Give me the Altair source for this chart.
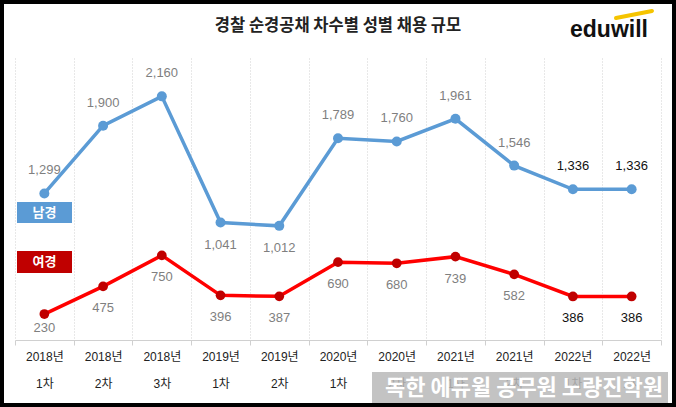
import altair as alt
import pandas as pd

years = ["2018년", "2018년", "2018년", "2019년", "2019년", "2020년", "2020년",
         "2021년", "2021년", "2022년", "2022년"]
rounds = ["1차", "2차", "3차", "1차", "2차", "1차", "2차", "1차", "2차", "1차", "2차"]
male = [1299, 1900, 2160, 1041, 1012, 1789, 1760, 1961, 1546, 1336, 1336]
female = [230, 475, 750, 396, 387, 690, 680, 739, 582, 386, 386]
series_names = ["남경", "여경"]
title_text = "경찰 순경공채 차수별 성별 채용 규모"
watermark_text = "독한 에듀윌 공무원 노량진학원"

cats = [f"{y}|{r}" for y, r in zip(years, rounds)]
rows = []
for c, m, f in zip(cats, male, female):
    rows.append({"cat": c, "series": series_names[0], "value": m})
    rows.append({"cat": c, "series": series_names[1], "value": f})
df = pd.DataFrame(rows)

BLUE = "#5b9bd5"
RED_LINE = "#ff0000"
RED_PT = "#c00000"
FONT = "Liberation Sans, Noto Sans CJK KR, sans-serif"
KFONT = "Noto Sans CJK KR, sans-serif"

W, H = 646, 282

xenc = alt.X(
    "cat:N", sort=cats, title=None,
    scale=alt.Scale(type="band", paddingInner=0, paddingOuter=0),
    axis=alt.Axis(
        labelExpr="split(datum.label, '|')", labelAngle=0,
        labelFont=FONT, labelFontSize=12, labelColor="#222",
        labelLineHeight=27, labelPadding=6,
        tickBand="extent", tickColor="#d0d0d0", tickSize=5,
        domainColor="#d0d0d0", grid=True, gridColor="#d0d0d0",
        gridDash=[1, 2], gridWidth=1,
    ),
)
yenc = alt.Y("value:Q", scale=alt.Scale(domain=[0, 2500]), axis=None)

base = alt.Chart(df).encode(x=xenc, y=yenc)

m_df = base.transform_filter(alt.datum.series == series_names[0])
f_df = base.transform_filter(alt.datum.series == series_names[1])

label_color = alt.condition("indexof(datum.cat, '2022') == 0",
                            alt.value("#111111"), alt.value("#7f7f7f"))

blue_line = m_df.mark_line(color=BLUE, strokeWidth=3.5)
blue_pts = m_df.mark_point(color=BLUE, filled=True, opacity=1, size=100)
red_line = f_df.mark_line(color=RED_LINE, strokeWidth=3.5)
red_pts = f_df.mark_point(color=RED_PT, filled=True, opacity=1, size=95)

txt = dict(font=FONT, fontSize=13, baseline="middle", align="center")
blue_above = m_df.transform_filter("indexof(datum.cat, '2019') != 0").mark_text(
    dy=-23, **txt).encode(text=alt.Text("value:Q", format=","), color=label_color)
blue_below = m_df.transform_filter("indexof(datum.cat, '2019') == 0").mark_text(
    dy=22, **txt).encode(text=alt.Text("value:Q", format=","), color=label_color)
red_below = f_df.transform_filter("datum.value >= 300").mark_text(
    dy=22, **txt).encode(text=alt.Text("value:Q", format=","), color=label_color)
red_low = f_df.transform_filter("datum.value < 300").mark_text(
    dy=14, **txt).encode(text=alt.Text("value:Q", format=","), color=label_color)

deco = alt.Chart(pd.DataFrame({"k": [0]}))

title_mark = deco.mark_text(
    text=title_text, font=KFONT, fontSize=16.5, fontWeight="bold", color="#222",
    align="center", baseline="middle").encode(x=alt.value(323), y=alt.value(-32))

logo = deco.mark_text(
    text="eduwill", font="Liberation Sans, sans-serif", fontSize=23, fontWeight="bold",
    color="#111", align="left", baseline="alphabetic").encode(
    x=alt.value(555), y=alt.value(-21))
swoosh = deco.mark_rule(color="#f5c400", strokeWidth=4, strokeCap="round").encode(
    x=alt.value(601), y=alt.value(-40), x2=alt.value(637), y2=alt.value(-47))

leg_m_box = deco.mark_rect(color=BLUE).encode(
    x=alt.value(2), x2=alt.value(57), y=alt.value(144), y2=alt.value(165))
leg_m_txt = deco.mark_text(
    text=series_names[0], font=KFONT, fontSize=13, fontWeight="bold", color="white",
    align="center", baseline="middle").encode(x=alt.value(29.5), y=alt.value(154.5))
leg_f_box = deco.mark_rect(color=RED_PT).encode(
    x=alt.value(2), x2=alt.value(57), y=alt.value(193), y2=alt.value(215))
leg_f_txt = deco.mark_text(
    text=series_names[1], font=KFONT, fontSize=13, fontWeight="bold", color="white",
    align="center", baseline="middle").encode(x=alt.value(29.5), y=alt.value(204))

wm_box = deco.mark_rect(color="#b8b8b8", opacity=0.85).encode(
    x=alt.value(357), x2=alt.value(653), y=alt.value(314), y2=alt.value(345))
wm_txt = deco.mark_text(
    text=watermark_text, font=KFONT, fontSize=22, fontWeight="bold", color="white",
    align="center", baseline="middle").encode(x=alt.value(509), y=alt.value(330))

border = deco.mark_rect(fill=None, stroke="black", strokeWidth=4).encode(
    x=alt.value(-13), x2=alt.value(659), y=alt.value(-56), y2=alt.value(347))

chart = alt.layer(
    blue_line, red_line, blue_pts, red_pts,
    blue_above, blue_below, red_below, red_low,
    title_mark, logo, swoosh,
    leg_m_box, leg_m_txt, leg_f_box, leg_f_txt,
    wm_box, wm_txt, border,
).properties(
    width=W, height=H,
    autosize=alt.AutoSizeParams(type="none"),
    padding={"left": 15, "top": 58, "right": 15, "bottom": 67},
    background="white",
).configure_view(stroke=None)

chart.save("out.html", embed_options={"renderer": "svg", "actions": False})
